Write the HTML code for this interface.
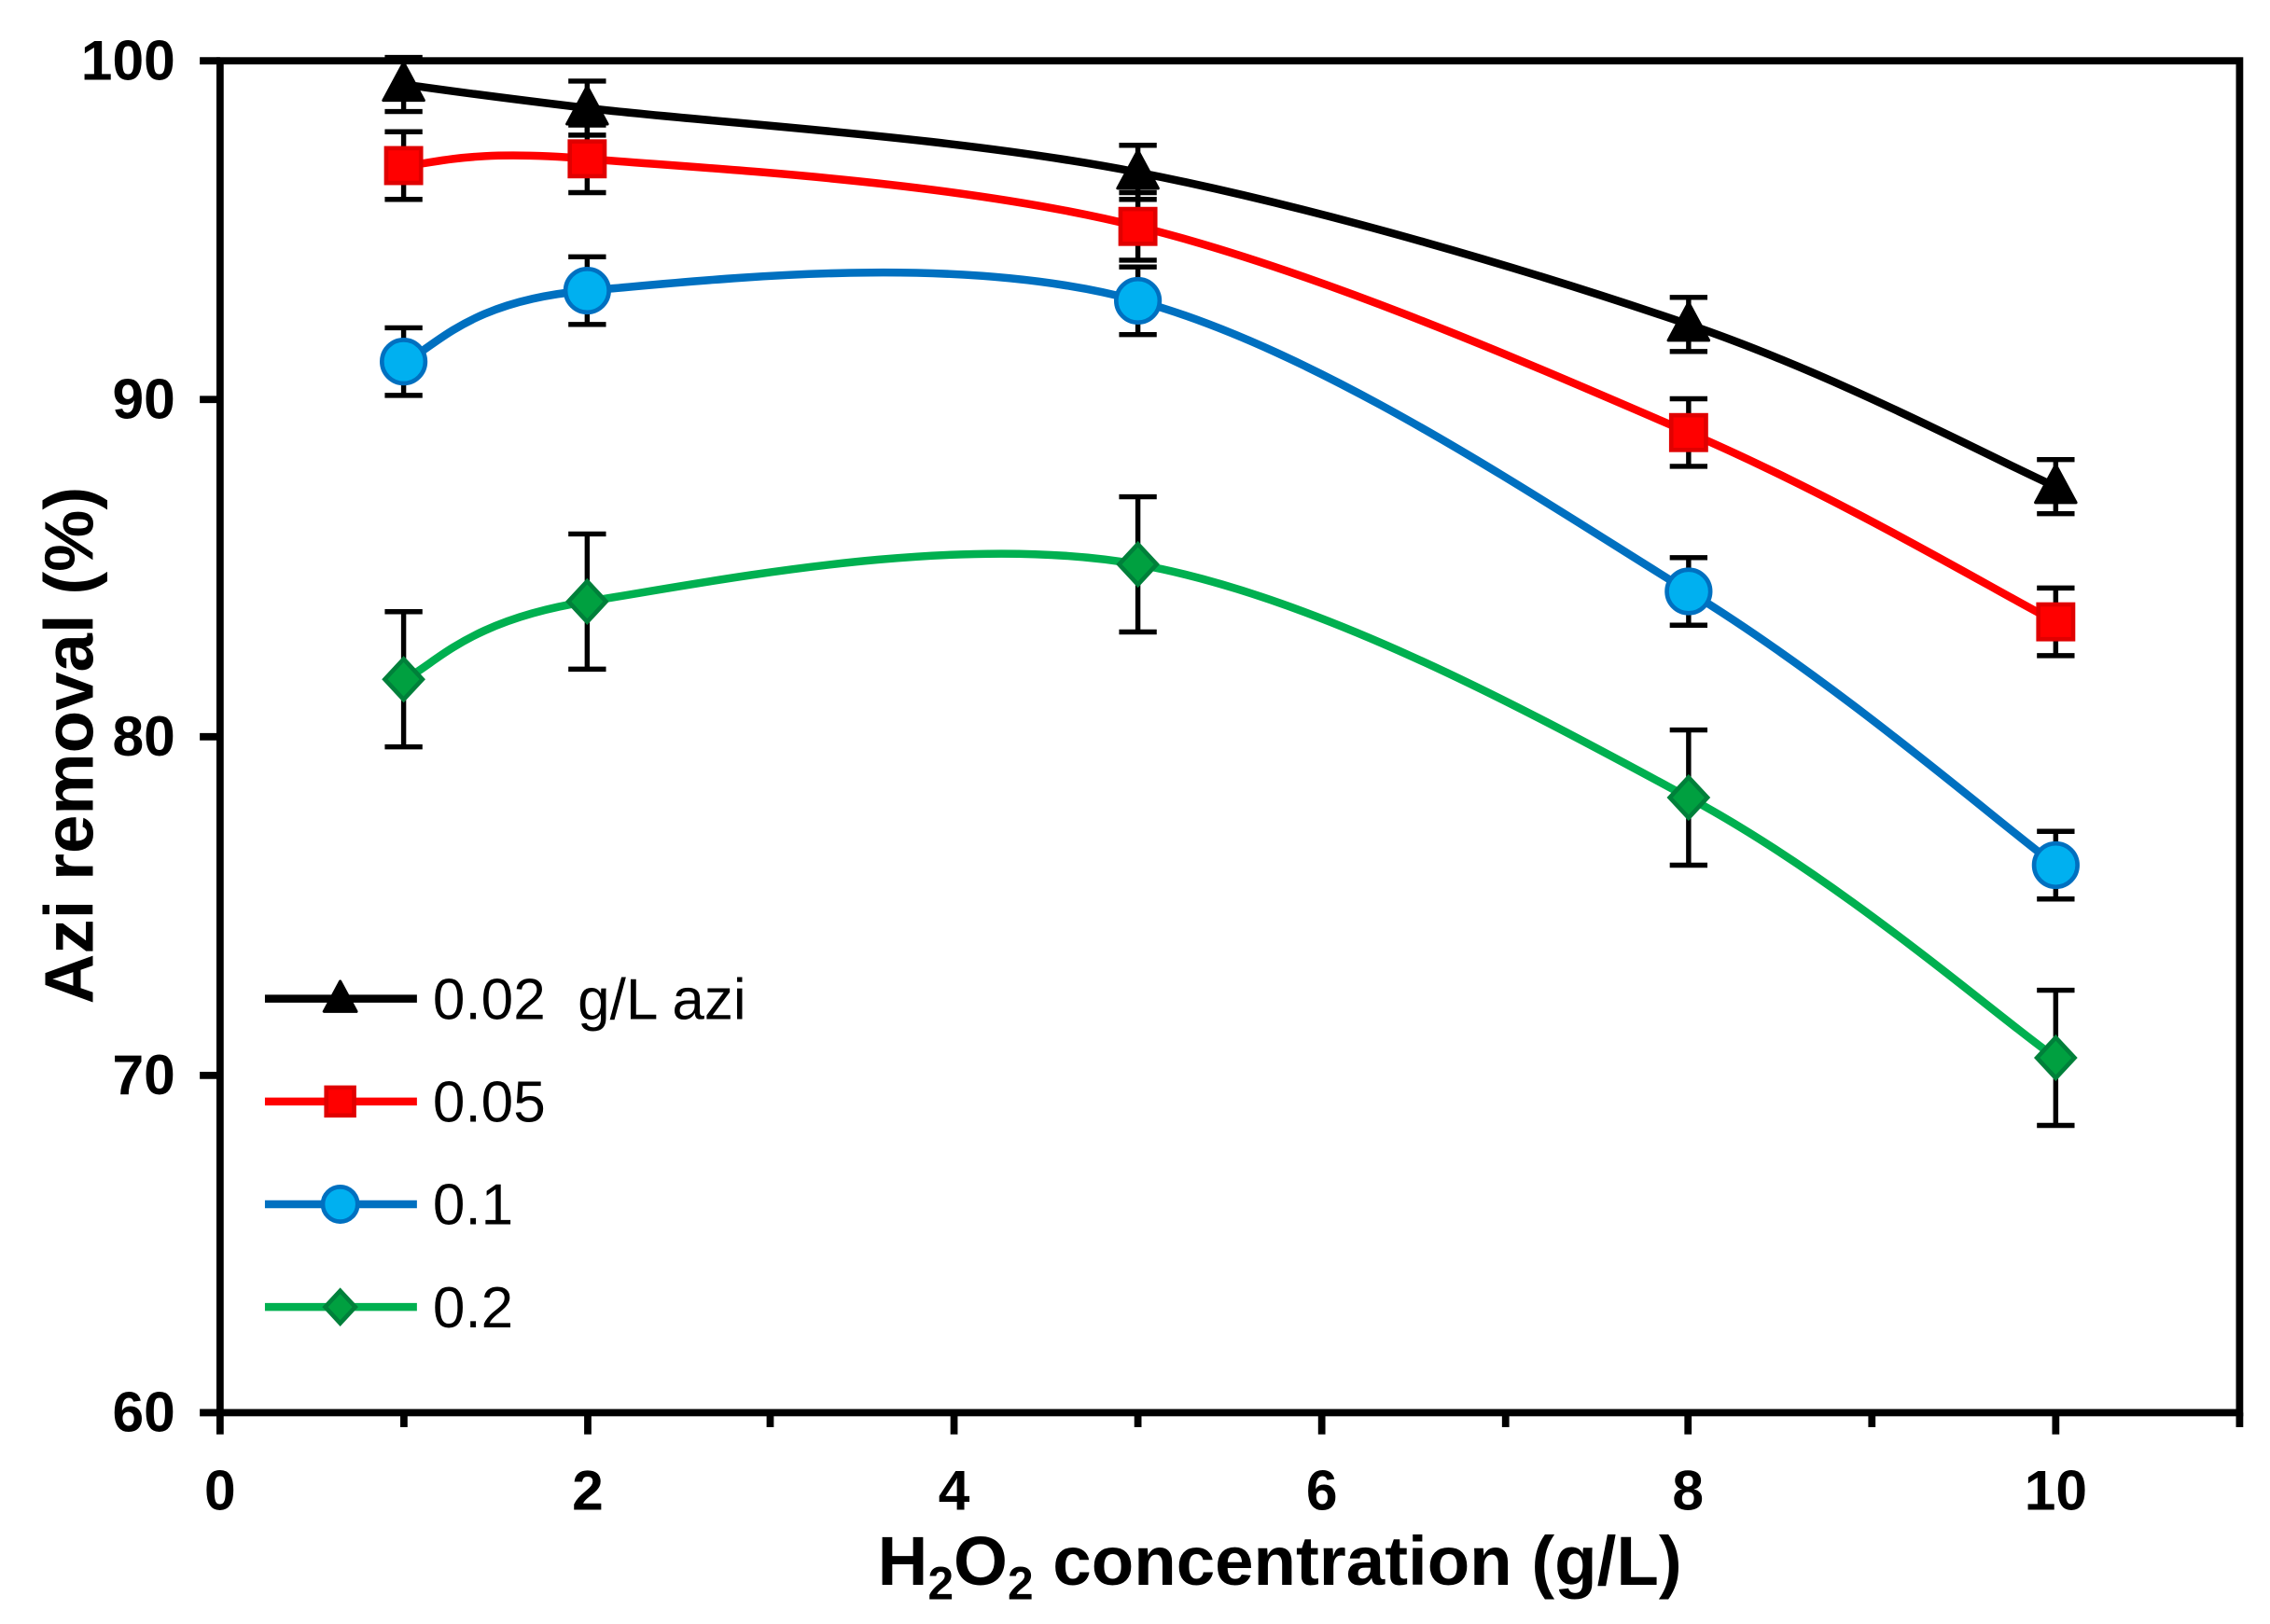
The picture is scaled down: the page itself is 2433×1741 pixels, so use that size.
<!DOCTYPE html>
<html><head><meta charset="utf-8"><style>
html,body{margin:0;padding:0;background:#fff}
svg{display:block}
text{font-family:"Liberation Sans",Arial,sans-serif}
</style></head><body>
<svg id="s" width="2433" height="1741" viewBox="0 0 1568 1122" xmlns="http://www.w3.org/2000/svg">
<rect width="1568" height="1122" fill="#fff"/>
<g id="plot"></g>
<rect x="152" y="42" width="1395" height="934" fill="none" stroke="#000" stroke-width="5"/>
<g stroke="#000" stroke-width="5">
<line x1="138" y1="42" x2="152" y2="42"/><line x1="138" y1="276" x2="152" y2="276"/><line x1="138" y1="509" x2="152" y2="509"/><line x1="138" y1="743" x2="152" y2="743"/><line x1="138" y1="976" x2="152" y2="976"/>
<line x1="152" y1="976" x2="152" y2="991"/><line x1="279" y1="976" x2="279" y2="986"/><line x1="406" y1="976" x2="406" y2="991"/><line x1="532" y1="976" x2="532" y2="986"/><line x1="659" y1="976" x2="659" y2="991"/><line x1="786" y1="976" x2="786" y2="986"/><line x1="913" y1="976" x2="913" y2="991"/><line x1="1040" y1="976" x2="1040" y2="986"/><line x1="1166" y1="976" x2="1166" y2="991"/><line x1="1293" y1="976" x2="1293" y2="986"/><line x1="1420" y1="976" x2="1420" y2="991"/><line x1="1547" y1="976" x2="1547" y2="986"/>
</g>
<g font-size="39" font-weight="bold" text-anchor="end">
<text x="121" y="55">100</text><text x="121" y="289">90</text><text x="121" y="522">80</text><text x="121" y="756">70</text><text x="121" y="989">60</text>
</g>
<g font-size="39" font-weight="bold" text-anchor="middle">
<text x="152" y="1043">0</text><text x="406" y="1043">2</text><text x="659" y="1043">4</text><text x="913" y="1043">6</text><text x="1166" y="1043">8</text><text x="1420" y="1043">10</text>
</g>
<text x="884" y="1095" font-size="48" font-weight="bold" text-anchor="middle">H<tspan font-size="32" dy="10">2</tspan><tspan dy="-10">O</tspan><tspan font-size="32" dy="10">2</tspan><tspan dy="-10"> concentration (g/L)</tspan></text>
<text transform="translate(64,515) rotate(-90)" font-size="48" font-weight="bold" text-anchor="middle">Azi removal (%)</text>
<g id="leg"></g>
</svg>
<script>
var X=v=>152+126.8*v, Y=v=>42+(100-v)*23.35;
var xs=[1,2,5,8,10];
var S=[
{c:"#000",d:[99.3,98.6,96.7,92.2,87.4],e:0.8,m:"tri",l:"0.02\u00a0 g/L azi"},
{c:"#ff0000",d:[96.9,97.1,95.1,89.0,83.4],e:1.0,m:"sq",l:"0.05"},
{c:"#0070c0",d:[91.1,93.2,92.9,84.3,76.2],e:1.0,m:"ci",l:"0.1"},
{c:"#00b050",d:[81.7,84.0,85.1,78.2,70.5],e:2.0,m:"di",l:"0.2"}];
function mk(m,x,y,k){k=k||1;
 if(m=="tri")return '<polygon points="'+x+','+(y-15*k)+' '+(x-14*k)+','+(y+11*k)+' '+(x+14*k)+','+(y+11*k)+'" fill="#000" stroke="#000" stroke-width="2" stroke-linejoin="round"/>';
 if(m=="sq")return '<rect x="'+(x-12*k)+'" y="'+(y-12*k)+'" width="'+24*k+'" height="'+24*k+'" fill="#ff0000" stroke="#e00000" stroke-width="3"/>';
 if(m=="ci")return '<ellipse cx="'+x+'" cy="'+y+'" rx="'+15*k+'" ry="'+15*k+'" fill="#00b0f0" stroke="#0070c0" stroke-width="3"/>';
 return '<polygon points="'+x+','+(y-14*k)+' '+(x+13*k)+','+y+' '+x+','+(y+14*k)+' '+(x-13*k)+','+y+'" fill="#00a040" stroke="#00803a" stroke-width="3"/>';
}
var h="";
S.forEach(s=>{
 var p=xs.map((x,i)=>[X(x),Y(s.d[i])]);
 var d="M"+p[0];
 for(var i=0;i<p.length-1;i++){
  var p0=p[i-1]||p[i],p1=p[i],p2=p[i+1],p3=p[i+2]||p[i+1],t=6;
  d+=" C"+(p1[0]+(p2[0]-p0[0])/t)+","+(p1[1]+(p2[1]-p0[1])/t)+" "+(p2[0]-(p3[0]-p1[0])/t)+","+(p2[1]-(p3[1]-p1[1])/t)+" "+p2[0]+","+p2[1];
 }
 h+='<path d="'+d+'" fill="none" stroke="'+s.c+'" stroke-width="5.5"/>';
 p.forEach((q,i)=>{var a=Y(s.d[i]+s.e),b=Y(s.d[i]-s.e);
  h+='<g stroke="#000" stroke-width="3.5"><line x1="'+q[0]+'" y1="'+a+'" x2="'+q[0]+'" y2="'+b+'"/><line x1="'+(q[0]-13)+'" y1="'+a+'" x2="'+(q[0]+13)+'" y2="'+a+'"/><line x1="'+(q[0]-13)+'" y1="'+b+'" x2="'+(q[0]+13)+'" y2="'+b+'"/></g>';});
 p.forEach(q=>h+=mk(s.m,q[0],q[1]));
});
document.getElementById("plot").innerHTML=h;
var g="";
S.forEach((s,i)=>{var y=690+71*i;
 g+='<line x1="183" y1="'+y+'" x2="288" y2="'+y+'" stroke="'+s.c+'" stroke-width="5.5"/>'+mk(s.m,235,y,0.8)+'<text x="299" y="'+(y+14)+'" font-size="40">'+s.l+'</text>';});
document.getElementById("leg").innerHTML=g;
</script>
</body></html>
